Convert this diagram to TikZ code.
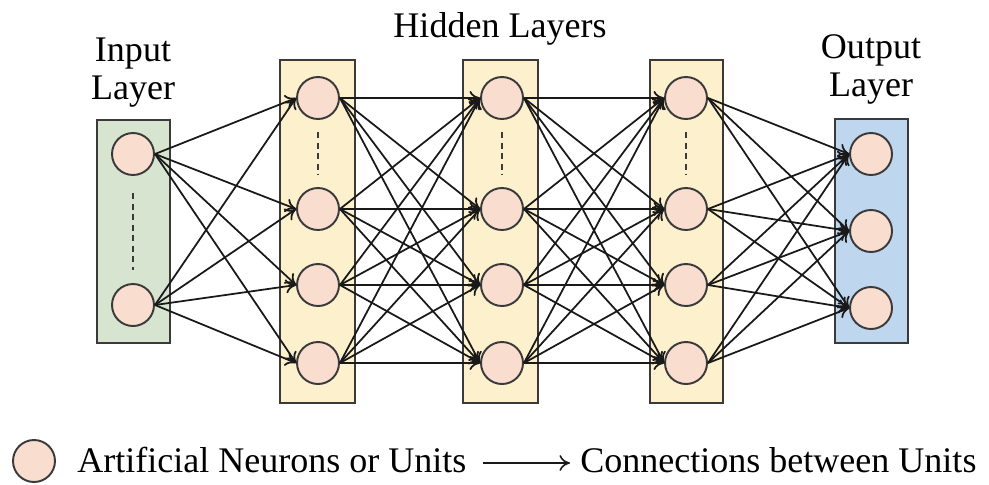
\documentclass[tikz,border=0pt]{standalone}
\usepackage{fontspec}
\setmainfont{Liberation Serif}
\usepackage{tikz}
\usetikzlibrary{arrows.meta, positioning}
\usepackage{xcolor}

\definecolor{inputgreen}{RGB}{214,228,208}
\definecolor{hiddenyellow}{RGB}{253,240,205}
\definecolor{outputblue}{RGB}{190,214,238}
\definecolor{neuronpink}{RGB}{249,221,207}
\definecolor{edgegray}{RGB}{58,58,58}

\tikzset{
  neuron/.style={circle, draw=edgegray, fill=neuronpink, line width=1.1pt, minimum size=0.84cm, inner sep=0pt},
  layerbox/.style={draw=edgegray, line width=1.1pt},
  conn/.style={-{To[length=6pt,width=8pt]}, line width=1pt, black!90},
  vdots/.style={edgegray, line width=1.4pt, dash pattern=on 3.5pt off 2.5pt},
  lbl/.style={font=\fontsize{20.5}{24}\selectfont, inner sep=0pt, anchor=base}
}

\begin{document}
\begin{tikzpicture}[x=0.02cm, y=-0.02cm]
  \useasboundingbox (0,0) rectangle (989,484);
  % layer boxes
  \draw[layerbox, fill=inputgreen] (97,120) rectangle (170,343);
  \draw[layerbox, fill=hiddenyellow] (280,60) rectangle (355,403);
  \draw[layerbox, fill=hiddenyellow] (463,60) rectangle (538,403);
  \draw[layerbox, fill=hiddenyellow] (650,60) rectangle (723,403);
  \draw[layerbox, fill=outputblue] (835,119) rectangle (908,343);
  % neurons
  \node[neuron] (i1) at (133,154) {};
  \node[neuron] (i2) at (133,305) {};
  \foreach \y [count=\k] in {98,209,285,363} {
    \node[neuron] (a\k) at (318,\y) {};
    \node[neuron] (b\k) at (502,\y) {};
    \node[neuron] (c\k) at (686,\y) {};
  }
  \node[neuron] (o1) at (871,154) {};
  \node[neuron] (o2) at (871,231) {};
  \node[neuron] (o3) at (871,308) {};
  % skipped units
  \draw[vdots] (133,193) -- (133,270);
  \draw[vdots] (318,132) -- (318,175);
  \draw[vdots] (502,132) -- (502,175);
  \draw[vdots] (686,132) -- (686,175);
  % connections
  \foreach \s in {1,2}
    \foreach \t in {1,...,4}
      \draw[conn] (i\s.east) -- (a\t.west);
  \foreach \s in {1,...,4}
    \foreach \t in {1,...,4} {
      \draw[conn] (a\s.east) -- (b\t.west);
      \draw[conn] (b\s.east) -- (c\t.west);
    }
  \foreach \s in {1,...,4}
    \foreach \t in {1,2,3}
      \draw[conn] (c\s.east) -- (o\t.west);
  % titles
  \node[lbl] (intop) at (133,61) {Input};
  \node[lbl] (inbot) at (133,99) {Layer};
  \node[lbl] (hidlbl) at (500,37) {Hidden Layers};
  \node[lbl] (outtop) at (871,58) {Output};
  \node[lbl] (outbot) at (871,96) {Layer};
  % legend
  \node[neuron] (legunit) at (34,461) {};
  \node[lbl, anchor=base west] (legunittxt) at (77,472) {Artificial Neurons or Units};
  \coordinate (legfrom) at (483,463);
  \coordinate (legto) at (570,463);
  \draw[conn, line width=0.9pt, -{To[length=6pt,width=9pt]}] (legfrom) -- (legto);
  \node[lbl, anchor=base west] (legconntxt) at (580,472) {Connections between Units};
\end{tikzpicture}
\end{document}
